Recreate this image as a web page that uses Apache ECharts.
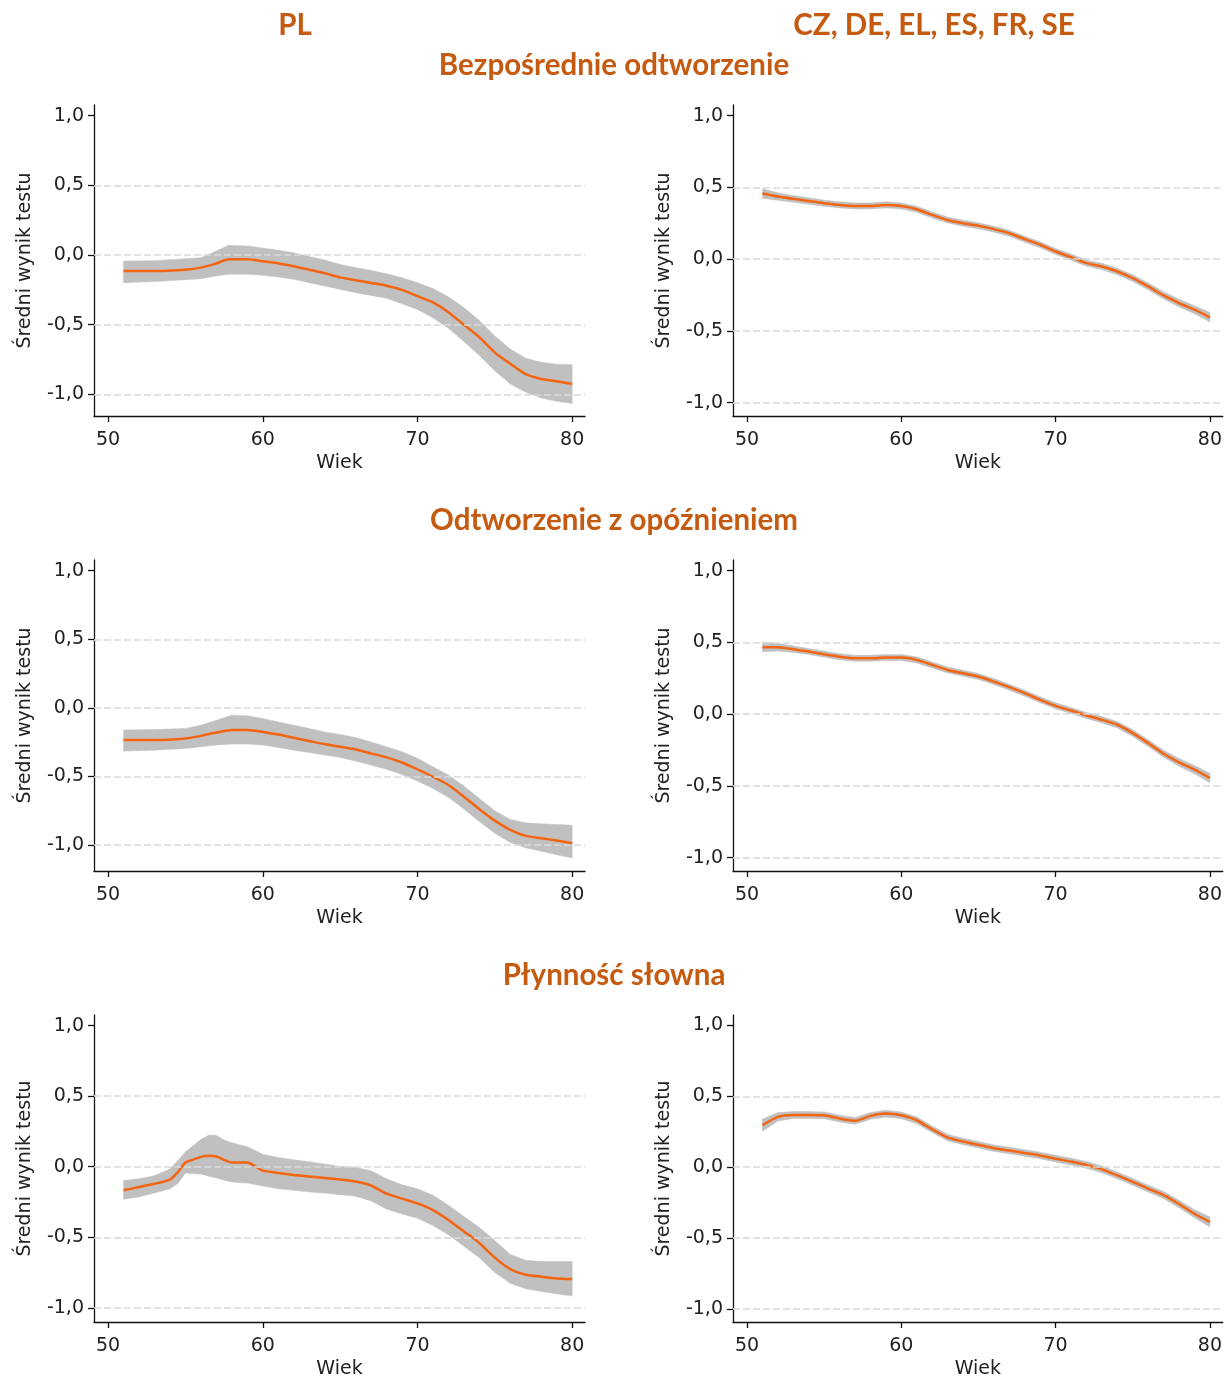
<!DOCTYPE html>
<html>
<head>
<meta charset="utf-8">
<script src="https://cdn.jsdelivr.net/npm/echarts@6/dist/echarts.min.js"></script>
<style>
  html, body { margin: 0; padding: 0; background: #fff; }
  #chart { width: 1225px; height: 1380px; }
</style>
</head>
<body>
<div id="chart"></div>
<script>
// tick labels
const xTicks = [50, 60, 70, 80];
const yTicks = [-1, -0.5, 0, 0.5, 1];
const gridValues = [-1, -0.5, 0, 0.5];

// PL - Bezpośrednie odtworzenie
const ageTL = [51, 53, 55, 56, 57, 57.8, 59, 60, 61, 62, 63, 64, 65, 66, 67, 68, 69, 70, 71, 72, 73, 74, 75, 76, 77, 78, 79, 80];
const meanTL = [-0.115, -0.115, -0.105, -0.09, -0.06, -0.03, -0.03, -0.045, -0.06, -0.08, -0.105, -0.13, -0.16, -0.18, -0.2, -0.22, -0.25, -0.295, -0.34, -0.41, -0.5, -0.59, -0.70, -0.78, -0.855, -0.89, -0.905, -0.925];
const upperTL = [-0.043, -0.04, -0.026, -0.02, 0.03, 0.07, 0.065, 0.05, 0.035, 0.017, -0.01, -0.036, -0.067, -0.09, -0.11, -0.134, -0.162, -0.198, -0.24, -0.30, -0.377, -0.47, -0.58, -0.675, -0.74, -0.77, -0.783, -0.787];
const lowerTL = [-0.198, -0.19, -0.177, -0.17, -0.15, -0.138, -0.138, -0.145, -0.157, -0.174, -0.198, -0.222, -0.246, -0.27, -0.29, -0.31, -0.35, -0.39, -0.45, -0.525, -0.62, -0.72, -0.83, -0.925, -0.985, -1.026, -1.05, -1.065];

// PL - Odtworzenie z opóźnieniem
const ageML = [51, 53, 55, 56, 57, 58, 59, 60, 61, 62, 63, 64, 65, 66, 67, 68, 69, 70, 71, 72, 73, 74, 75, 76, 77, 78, 79, 80];
const meanML = [-0.235, -0.235, -0.223, -0.204, -0.18, -0.162, -0.162, -0.175, -0.194, -0.218, -0.242, -0.264, -0.284, -0.303, -0.332, -0.361, -0.398, -0.448, -0.502, -0.562, -0.647, -0.739, -0.822, -0.889, -0.933, -0.95, -0.967, -0.987];
const upperML = [-0.162, -0.158, -0.15, -0.126, -0.09, -0.053, -0.058, -0.078, -0.102, -0.126, -0.15, -0.175, -0.194, -0.216, -0.248, -0.284, -0.32, -0.368, -0.429, -0.49, -0.57, -0.66, -0.75, -0.813, -0.838, -0.845, -0.85, -0.855];
const lowerML = [-0.315, -0.308, -0.296, -0.284, -0.27, -0.264, -0.264, -0.27, -0.288, -0.308, -0.325, -0.344, -0.361, -0.388, -0.417, -0.448, -0.485, -0.533, -0.587, -0.652, -0.737, -0.829, -0.914, -0.982, -1.02, -1.045, -1.07, -1.095];

// PL - Płynność słowna
const ageBL = [51, 52, 53, 54, 54.5, 55, 55.5, 56, 56.5, 57, 57.5, 58, 59, 60, 61, 62, 63, 64, 65, 66, 67, 68, 69, 70, 71, 72, 73, 74, 75, 76, 77, 78, 79, 80];
const meanBL = [-0.167, -0.144, -0.121, -0.091, -0.04, 0.03, 0.05, 0.07, 0.077, 0.072, 0.049, 0.03, 0.03, -0.028, -0.044, -0.058, -0.07, -0.079, -0.091, -0.105, -0.133, -0.191, -0.226, -0.26, -0.307, -0.377, -0.458, -0.54, -0.644, -0.726, -0.765, -0.779, -0.791, -0.795];
const upperBL = [-0.098, -0.086, -0.063, -0.016, 0.042, 0.105, 0.15, 0.193, 0.223, 0.223, 0.19, 0.17, 0.142, 0.088, 0.065, 0.049, 0.035, 0.019, 0.002, -0.005, -0.028, -0.086, -0.128, -0.156, -0.202, -0.272, -0.353, -0.43, -0.523, -0.621, -0.663, -0.672, -0.672, -0.672];
const lowerBL = [-0.23, -0.214, -0.186, -0.156, -0.121, -0.045, -0.05, -0.051, -0.067, -0.079, -0.095, -0.109, -0.116, -0.137, -0.156, -0.167, -0.179, -0.186, -0.198, -0.209, -0.242, -0.3, -0.335, -0.365, -0.416, -0.481, -0.563, -0.644, -0.749, -0.826, -0.865, -0.884, -0.9, -0.916];

// CZ, DE, EL, ES, FR, SE
const ageR = [51, 52, 53, 54, 55, 56, 57, 58, 59, 60, 61, 62, 63, 64, 65, 66, 67, 68, 69, 70, 71, 72, 73, 74, 75, 76, 77, 78, 79, 80];
const meanTR = [0.457, 0.436, 0.42, 0.405, 0.39, 0.378, 0.371, 0.371, 0.378, 0.371, 0.348, 0.308, 0.273, 0.25, 0.232, 0.209, 0.18, 0.139, 0.1, 0.053, 0.014, -0.028, -0.051, -0.086, -0.132, -0.19, -0.253, -0.306, -0.352, -0.405];
const upperTR = [0.49, 0.462, 0.443, 0.427, 0.411, 0.399, 0.392, 0.392, 0.399, 0.392, 0.369, 0.329, 0.294, 0.271, 0.253, 0.23, 0.201, 0.16, 0.121, 0.074, 0.035, -0.007, -0.029, -0.064, -0.109, -0.166, -0.228, -0.28, -0.324, -0.372];
const lowerTR = [0.424, 0.41, 0.397, 0.383, 0.369, 0.357, 0.35, 0.35, 0.357, 0.35, 0.327, 0.287, 0.252, 0.229, 0.211, 0.188, 0.159, 0.118, 0.079, 0.032, -0.007, -0.049, -0.073, -0.108, -0.155, -0.214, -0.278, -0.332, -0.38, -0.438];

const meanMR = [0.466, 0.466, 0.452, 0.436, 0.417, 0.40, 0.389, 0.389, 0.394, 0.394, 0.378, 0.343, 0.308, 0.285, 0.262, 0.227, 0.188, 0.146, 0.1, 0.058, 0.025, -0.009, -0.039, -0.074, -0.132, -0.202, -0.276, -0.336, -0.387, -0.445];
const upperMR = [0.502, 0.494, 0.474, 0.457, 0.438, 0.421, 0.41, 0.41, 0.415, 0.415, 0.399, 0.364, 0.329, 0.306, 0.283, 0.248, 0.209, 0.167, 0.121, 0.079, 0.046, 0.012, -0.017, -0.052, -0.109, -0.178, -0.251, -0.309, -0.358, -0.412];
const lowerMR = [0.434, 0.44, 0.43, 0.415, 0.396, 0.379, 0.368, 0.368, 0.373, 0.373, 0.357, 0.322, 0.287, 0.264, 0.241, 0.206, 0.167, 0.125, 0.079, 0.037, 0.004, -0.03, -0.061, -0.096, -0.155, -0.226, -0.301, -0.363, -0.416, -0.478];

const meanBR = [0.297, 0.355, 0.368, 0.368, 0.366, 0.343, 0.327, 0.362, 0.378, 0.366, 0.331, 0.267, 0.209, 0.181, 0.158, 0.134, 0.118, 0.1, 0.083, 0.06, 0.039, 0.016, -0.016, -0.058, -0.104, -0.151, -0.197, -0.26, -0.329, -0.387];
const upperBR = [0.34, 0.385, 0.392, 0.392, 0.39, 0.367, 0.351, 0.386, 0.402, 0.39, 0.355, 0.29, 0.232, 0.204, 0.181, 0.157, 0.141, 0.123, 0.106, 0.084, 0.063, 0.04, 0.008, -0.034, -0.08, -0.127, -0.172, -0.234, -0.3, -0.352];
const lowerBR = [0.254, 0.325, 0.344, 0.344, 0.342, 0.319, 0.303, 0.338, 0.354, 0.342, 0.307, 0.244, 0.186, 0.158, 0.135, 0.111, 0.095, 0.077, 0.06, 0.036, 0.015, -0.008, -0.04, -0.082, -0.128, -0.175, -0.222, -0.286, -0.358, -0.422];

const chart = echarts.init(document.getElementById('chart'));

// panel layout (positions only)
const panels = [
  { age: ageTL, mean: meanTL, upper: upperTL, lower: lowerTL, left: 94, top: 105, yMin: -1.155, yMax: 1.077 },
  { age: ageR, mean: meanTR, upper: upperTR, lower: lowerTR, left: 733, top: 105, yMin: -1.093, yMax: 1.074 },
  { age: ageML, mean: meanML, upper: upperML, lower: lowerML, left: 94, top: 560, yMin: -1.189, yMax: 1.078 },
  { age: ageR, mean: meanMR, upper: upperMR, lower: lowerMR, left: 733, top: 560, yMin: -1.093, yMax: 1.074 },
  { age: ageBL, mean: meanBL, upper: upperBL, lower: lowerBL, left: 94, top: 1015, yMin: -1.100, yMax: 1.075 },
  { age: ageR, mean: meanBR, upper: upperBR, lower: lowerBR, left: 733, top: 1015, yMin: -1.093, yMax: 1.074 }
];

const axisFont = 'DejaVu Sans';
const textColor = '#222';

// confidence band drawn as one polygon through the axis scales
function bandRenderer(p) {
  return function (params, api) {
    if (params.dataIndex !== 0) return;
    const pts = [];
    for (let k = 0; k < p.age.length; k++) pts.push(api.coord([p.age[k], p.upper[k]]));
    for (let k = p.age.length - 1; k >= 0; k--) pts.push(api.coord([p.age[k], p.lower[k]]));
    return {
      type: 'polygon',
      shape: { points: pts },
      style: { fill: '#c0c0c0', stroke: '#c0c0c0', lineWidth: 0.5 }
    };
  };
}

const grid = [], xAxis = [], yAxis = [], series = [];
panels.forEach(function (p, i) {
  grid.push({ left: p.left, top: p.top, width: 491, height: 311 });
  xAxis.push({
    type: 'value', gridIndex: i, min: 49.09, max: 80.83,
    name: 'Wiek', nameLocation: 'middle', nameGap: 38,
    nameTextStyle: { fontFamily: axisFont, fontSize: 19, color: textColor },
    axisLine: { onZero: false, lineStyle: { color: '#111', width: 1.3 } },
    axisTick: { customValues: xTicks, length: 6, lineStyle: { color: '#111', width: 1.3 } },
    axisLabel: { customValues: xTicks, fontFamily: axisFont, fontSize: 19, color: textColor, margin: 15 },
    splitLine: { show: false }
  });
  yAxis.push({
    type: 'value', gridIndex: i, min: p.yMin, max: p.yMax,
    name: 'Średni wynik testu', nameLocation: 'middle', nameGap: 59, nameRotate: 90,
    nameTextStyle: { fontFamily: axisFont, fontSize: 19, color: textColor },
    axisLine: { show: true, onZero: false, lineStyle: { color: '#111', width: 1.3 } },
    axisTick: { show: true, customValues: yTicks, length: 6, lineStyle: { color: '#111', width: 1.3 } },
    axisLabel: {
      customValues: yTicks, fontFamily: axisFont, fontSize: 19, color: textColor, margin: 10,
      formatter: function (v) { return v.toFixed(1).replace('.', ','); }
    },
    splitLine: { show: false }
  });
  const bandData = p.age.map(function (a, k) { return [a, p.lower[k], p.upper[k]]; });
  const meanData = p.age.map(function (a, k) { return [a, p.mean[k]]; });
  series.push({
    type: 'line', xAxisIndex: i, yAxisIndex: i, data: [], z: 1, silent: true,
    markLine: {
      silent: true, symbol: 'none', label: { show: false },
      lineStyle: { color: '#d9d9d9', type: [7, 3], width: 1.5 },
      data: gridValues.map(function (v) { return { yAxis: v }; })
    }
  });
  series.push({
    type: 'custom', xAxisIndex: i, yAxisIndex: i, data: bandData,
    encode: { x: 0, y: [1, 2] }, renderItem: bandRenderer(p), z: 2, silent: true
  });
  series.push({
    type: 'line', xAxisIndex: i, yAxisIndex: i, data: meanData,
    symbol: 'none', smooth: 0.2, lineStyle: { color: '#f5640f', width: 2.5 }, z: 3, silent: true
  });
});

const titleFont = 'bold 29.5px Lato';
const titleColor = '#c55a11';
function titleText(text, x, y) {
  return { type: 'text', x: x, y: y, style: { text: text, font: titleFont, fill: titleColor, align: 'center', verticalAlign: 'middle' } };
}

chart.setOption({
  animation: false,
  backgroundColor: '#ffffff',
  grid: grid,
  xAxis: xAxis,
  yAxis: yAxis,
  series: series,
  graphic: [
    titleText('PL', 295, 25),
    titleText('CZ, DE, EL, ES, FR, SE', 934, 25),
    titleText('Bezpośrednie odtworzenie', 614, 65),
    titleText('Odtworzenie z opóźnieniem', 614, 520),
    titleText('Płynność słowna', 614, 975)
  ]
});
</script>
</body>
</html>
